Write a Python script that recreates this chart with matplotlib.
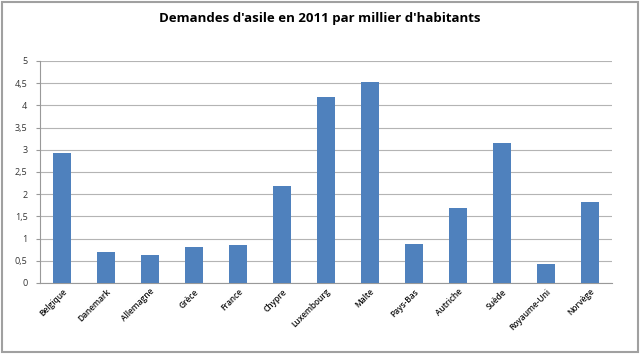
import numpy as np
import matplotlib.pyplot as plt
from matplotlib.patches import Rectangle

pays = ['Belgique', 'Danemark', 'Allemagne', 'Grèce', 'France', 'Chypre',
        'Luxembourg', 'Malte', 'Pays-Bas', 'Autriche', 'Suède',
        'Royaume-Uni', 'Norvège']
demandes = [2.92, 0.70, 0.64, 0.82, 0.86, 2.19, 4.20, 4.53, 0.87, 1.70,
            3.16, 0.42, 1.82]
yticks = [0, 0.5, 1, 1.5, 2, 2.5, 3, 3.5, 4, 4.5, 5]
ylabels = ['0', '0,5', '1', '1,5', '2', '2,5', '3', '3,5', '4', '4,5', '5']

plt.rcParams['font.family'] = ['Open Sans', 'DejaVu Sans']

fig = plt.figure(figsize=(6.4, 3.54), dpi=100)
ax = fig.add_axes([0.0625, 0.2006, 0.8935, 0.6271])

x = np.arange(len(pays))
ax.bar(x, demandes, width=0.41, color='#4F81BD', zorder=3)

ax.set_xlim(-0.5, len(pays) - 0.5)
ax.set_ylim(0, 5)
ax.set_yticks(yticks)
ax.set_yticklabels(ylabels, fontsize=6.5, color='#333333')
ax.set_xticks(x)
ax.set_xticklabels(pays, rotation=45, ha='right', rotation_mode='anchor',
                   fontsize=6, color='#111111', fontweight='semibold')
ax.tick_params(axis='y', length=3, color='#999999', pad=6)
ax.tick_params(axis='x', length=0, pad=3)
ax.yaxis.grid(True, color='#b4b4b4', linewidth=0.8, zorder=0)

for side in ['top', 'right']:
    ax.spines[side].set_visible(False)
ax.spines['left'].set_color('#999999')
ax.spines['bottom'].set_color('#999999')

fig.text(0.5, 0.948, "Demandes d'asile en 2011 par millier d'habitants",
         ha='center', va='center', fontsize=9.5, fontweight='bold')

fig.patches.append(Rectangle((0.003, 0.006), 0.994, 0.988, transform=fig.transFigure,
                             fill=False, edgecolor='#a0a0a0', linewidth=1.5))

fig.savefig('out.png', dpi=100)
